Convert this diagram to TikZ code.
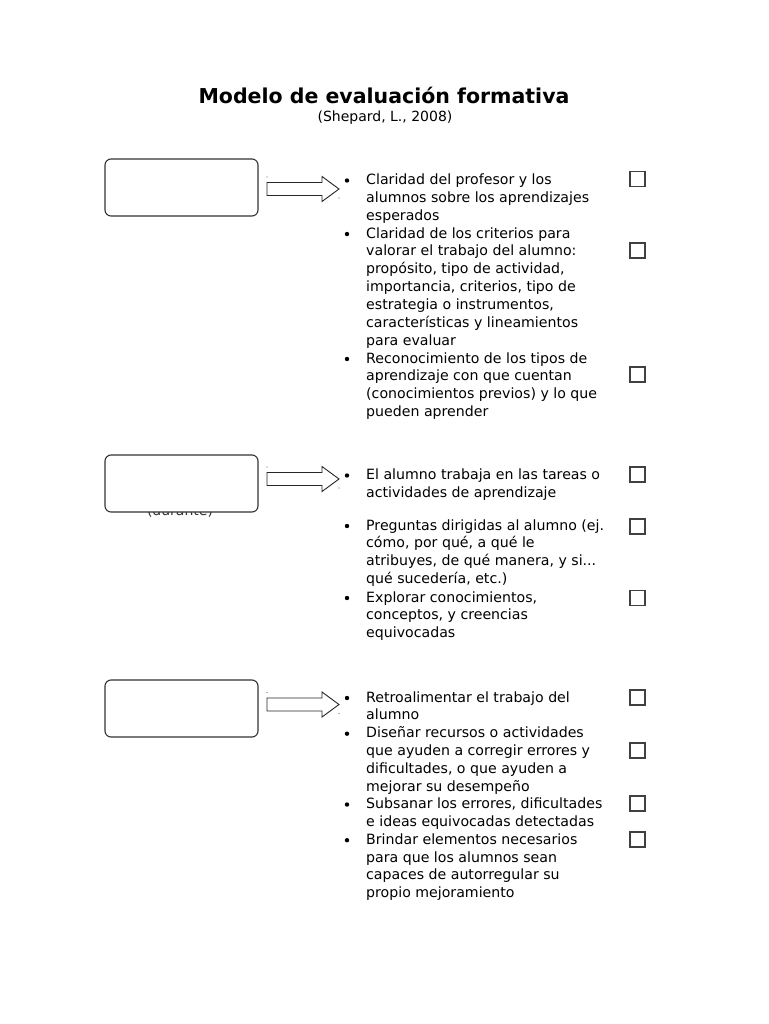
\documentclass[tikz,border=0pt]{standalone}
\usepackage{fontspec}
\setmainfont{DejaVu Sans}
\begin{document}
\begin{tikzpicture}[x=1pt,y=-1pt,
  stagebox/.style={draw=black!80, line width=1.1pt, rounded corners=6pt, fill=white,
    minimum width=153pt, minimum height=57pt, inner sep=0pt},
  chk/.style={draw=black!75, line width=1.2pt, minimum size=15pt, inner sep=0pt},
  itemtext/.style={anchor=base west, inner sep=0pt, font=\fontsize{14.15}{17.85}\selectfont},
  bigarrow/.style={draw=black!85, line width=0.9pt, fill=white},
  bul/.style={fill=black, draw=none}]
\useasboundingbox (0,0) rectangle (768,1024);
\fill[white] (0,0) rectangle (768,1024);

% title
\node[anchor=base, inner sep=0pt, font=\bfseries\fontsize{20.5}{24}\selectfont] (title) at (384,104) {Modelo de evaluación formativa};
\node[anchor=base, inner sep=0pt, font=\fontsize{14}{17}\selectfont] (sub) at (385,121.5) {(Shepard, L., 2008)};

% hidden text under box 2
\node[anchor=base, inner sep=0pt, font=\fontsize{14}{17}\selectfont, text=black!80] (dur) at (180,515) {(durante)};

% stage boxes
\node[stagebox] (s1) at (181.5,187.5) {};
\node[stagebox] (s2) at (181.5,483.5) {};
\node[stagebox] (s3) at (181.5,708.5) {};

% block arrows
\newcommand{\blockarrow}[1]{%
  \draw[bigarrow] (#1) ++(0,-6.5) -- ++(55,0) -- ++(0,-6) -- ++(17,12.5) -- ++(-17,12.5) -- ++(0,-6) -- ++(-55,0) -- cycle;
  \fill[black!60] (#1) ++(0,-12) circle (0.6);
  \fill[black!60] (#1) ++(72,9) circle (0.6);}
\coordinate (a1) at (267,189);
\coordinate (a2) at (267,479);
\coordinate (a3) at (267,704.5);
\blockarrow{a1}
\blockarrow{a2}
\blockarrow{a3}

% items
\newcommand{\itm}[3]{%
  \fill[bul] (347,#2-4) circle (2.2);
  \node[itemtext] (#1) at (366,#2) {\parbox[t]{262pt}{#3}};}

\itm{i11}{184.5}{Claridad del profesor y los\\alumnos sobre los aprendizajes\\esperados}
\itm{i12}{238.05}{Claridad de los criterios para\\valorar el trabajo del alumno:\\propósito, tipo de actividad,\\importancia, criterios, tipo de\\estrategia o instrumentos,\\características y lineamientos\\para evaluar}
\itm{i13}{363}{Reconocimiento de los tipos de\\aprendizaje con que cuentan\\(conocimientos previos) y lo que\\pueden aprender}

\itm{i21}{479.5}{El alumno trabaja en las tareas o\\actividades de aprendizaje}
\itm{i22}{530}{Preguntas dirigidas al alumno (ej.\\cómo, por qué, a qué le\\atribuyes, de qué manera, y si...\\qué sucedería, etc.)}
\itm{i23}{602}{Explorar conocimientos,\\conceptos, y creencias\\equivocadas}

\itm{i31}{702}{Retroalimentar el trabajo del\\alumno}
\itm{i32}{737.7}{Diseñar recursos o actividades\\que ayuden a corregir errores y\\dificultades, o que ayuden a\\mejorar su desempeño}
\itm{i33}{808.5}{Subsanar los errores, dificultades\\e ideas equivocadas detectadas}
\itm{i34}{844.2}{Brindar elementos necesarios\\para que los alumnos sean\\capaces de autorregular su\\propio mejoramiento}

% checkboxes
\node[chk] (c11) at (637.5,179) {};
\node[chk] (c12) at (637.5,250.5) {};
\node[chk] (c13) at (637.5,374.5) {};
\node[chk] (c21) at (637.5,474.5) {};
\node[chk] (c22) at (637.5,526.5) {};
\node[chk] (c23) at (637.5,598) {};
\node[chk] (c31) at (637.5,697.5) {};
\node[chk] (c32) at (637.5,750.5) {};
\node[chk] (c33) at (637.5,803.5) {};
\node[chk] (c34) at (637.5,839.5) {};
\end{tikzpicture}
\end{document}
